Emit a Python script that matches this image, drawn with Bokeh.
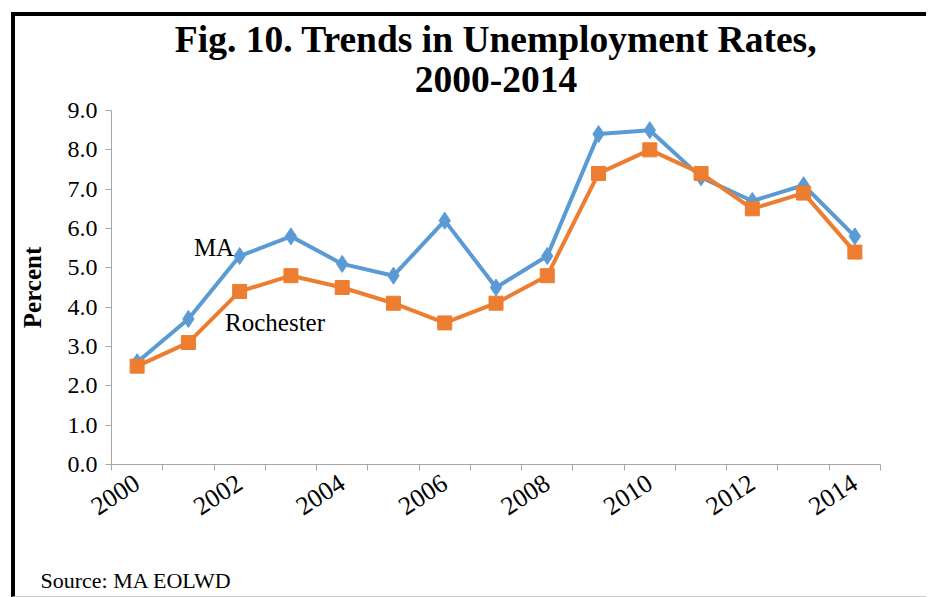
from bokeh.plotting import figure
from bokeh.models import FixedTicker, Title, Label, Range1d, PrintfTickFormatter
from bokeh.embed import file_html
from bokeh.resources import INLINE
import math

years = [2000, 2001, 2002, 2003, 2004, 2005, 2006, 2007, 2008, 2009, 2010, 2011, 2012, 2013, 2014]
ma = [2.6, 3.7, 5.3, 5.8, 5.1, 4.8, 6.2, 4.5, 5.3, 8.4, 8.5, 7.3, 6.7, 7.1, 5.8]
rochester = [2.5, 3.1, 4.4, 4.8, 4.5, 4.1, 3.6, 4.1, 4.8, 7.4, 8.0, 7.4, 6.5, 6.9, 5.4]
y_ticks = [0, 1, 2, 3, 4, 5, 6, 7, 8, 9]
label_years = [2000, 2002, 2004, 2006, 2008, 2010, 2012, 2014]

FONT = "Liberation Serif"
BLUE = "#5B9BD5"
ORANGE = "#ED7D31"
AXIS = "#A6A6A6"

xpos = [i + 0.5 for i in range(len(years))]

p = figure(width=915, height=585, output_backend="svg", toolbar_location=None,
           x_range=Range1d(0, len(years)), y_range=Range1d(0, 9),
           min_border_left=96, min_border_right=50, min_border_top=94, min_border_bottom=137)
p.styles = {"border-left": "4px solid black", "border-top": "4px solid black",
            "border-bottom": "1px solid #cccccc", "margin-left": "11px", "margin-top": "12px"}
p.outline_line_color = None
p.xgrid.visible = False
p.ygrid.visible = False

# spacer between frame and title
p.add_layout(Title(text=" ", text_font_size="2px", standoff=10), "above")
p.add_layout(Title(text="2000-2014", text_font=FONT, text_font_size="37.5px",
                   text_color="black", text_font_style="bold", align="center",
                   standoff=9), "above")
p.add_layout(Title(text="Fig. 10. Trends in Unemployment Rates,", text_font=FONT,
                   text_font_size="37.5px", text_color="black", text_font_style="bold",
                   align="center", standoff=1), "above")

# x axis
label_pos = [years.index(y) + 0.5 for y in label_years]
p.xaxis.ticker = FixedTicker(ticks=label_pos, minor_ticks=list(range(len(years) + 1)))
p.xaxis.major_label_overrides = {lp: str(y) for lp, y in zip(label_pos, label_years)}
p.xaxis.major_tick_out = 0
p.xaxis.major_tick_in = 0
p.xaxis.minor_tick_out = 6
p.xaxis.minor_tick_in = 0
p.xaxis.minor_tick_line_color = AXIS
p.xaxis.axis_line_color = AXIS
p.xaxis.major_label_orientation = math.radians(33)
p.xaxis.major_label_text_font = FONT
p.xaxis.major_label_text_font_size = "26px"
p.xaxis.major_label_text_color = "black"
p.xaxis.major_label_standoff = 10

# y axis
p.yaxis.ticker = FixedTicker(ticks=y_ticks, minor_ticks=[])
p.yaxis.formatter = PrintfTickFormatter(format="%.1f")
p.yaxis.major_tick_out = 6
p.yaxis.major_tick_in = 0
p.yaxis.major_tick_line_color = AXIS
p.yaxis.axis_line_color = AXIS
p.yaxis.major_label_text_font = FONT
p.yaxis.major_label_text_font_size = "24px"
p.yaxis.major_label_text_color = "black"
p.yaxis.major_label_standoff = 8
p.yaxis.axis_label = "Percent"
p.yaxis.axis_label_text_font = FONT
p.yaxis.axis_label_text_font_size = "25px"
p.yaxis.axis_label_text_font_style = "bold"
p.yaxis.axis_label_text_color = "black"
p.yaxis.axis_label_standoff = 19

p.line(xpos, ma, line_color=BLUE, line_width=4)
p.scatter(xpos, ma, marker="diamond", size=17, fill_color=BLUE, line_color=BLUE)
p.line(xpos, rochester, line_color=ORANGE, line_width=4)
p.scatter(xpos, rochester, marker="square", size=14, fill_color=ORANGE, line_color=ORANGE)

p.add_layout(Label(x=2.0, y=5.52, text="MA", text_font=FONT, text_font_size="25px",
                   text_color="black", text_align="center", text_baseline="middle"))
p.add_layout(Label(x=3.19, y=3.61, text="Rochester", text_font=FONT, text_font_size="25px",
                   text_color="black", text_align="center", text_baseline="middle"))

# spacer between x axis and source note
p.add_layout(Title(text=" ", text_font_size="2px", standoff=35), "below")
p.add_layout(Title(text="Source: MA EOLWD", text_font=FONT, text_font_size="22px",
                   text_color="black", text_font_style="normal", align="left",
                   offset=-71, standoff=0), "below")

open("out.html", "w").write(file_html(p, INLINE))
